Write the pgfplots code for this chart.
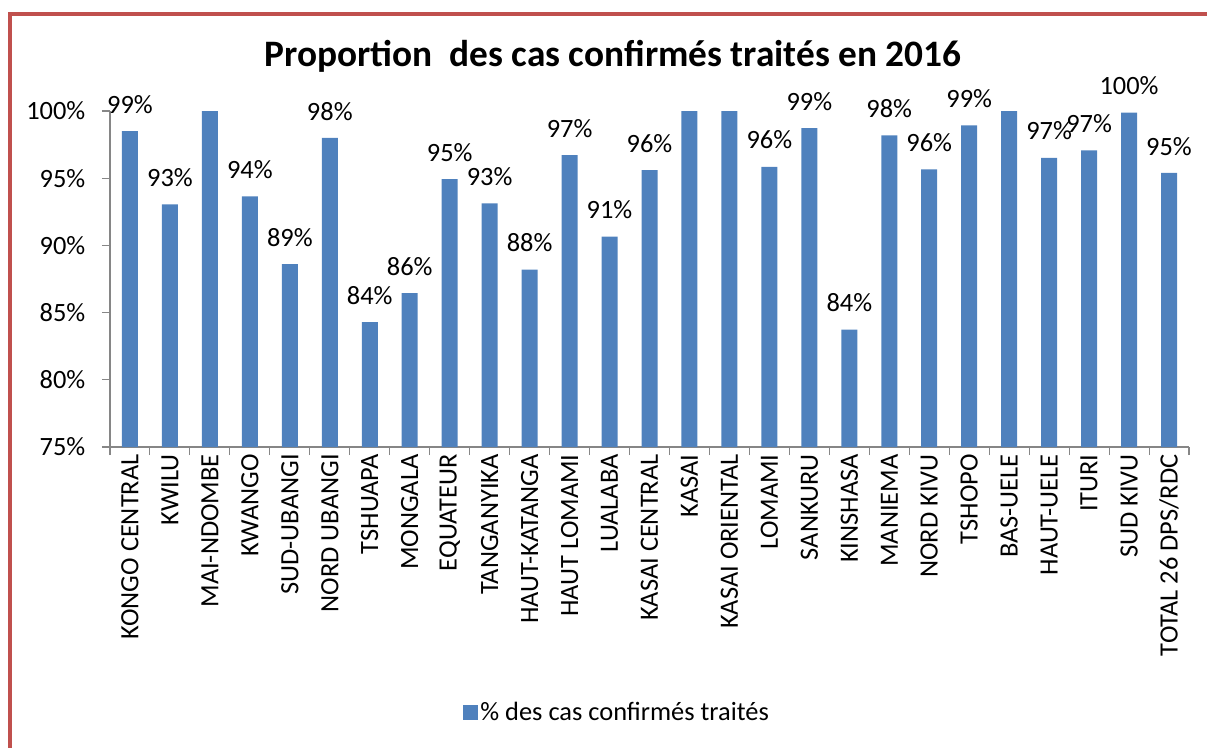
\documentclass[border=0pt]{standalone}
\usepackage{pgfplots}
\pgfplotsset{compat=1.18}
\usepackage{fontspec}
\setmainfont{Carlito}
\definecolor{barblue}{HTML}{4F81BD}
\definecolor{framered}{HTML}{C0504D}
\definecolor{axisgray}{HTML}{868686}
\newcommand{\lblfont}{\fontsize{19.8}{22}\selectfont}
\newcommand{\yl}[1]{#1\%\kern9pt}
\begin{document}
\begin{tikzpicture}
\begin{axis}[
  at={(82.5pt,225pt)}, anchor=south west,
  scale only axis, width=809.25pt, height=252pt,
  xmin=-0.5, xmax=26.5, ymin=75, ymax=100,
  axis x line*=bottom, axis y line*=left,
  axis line style={draw=axisgray, line width=0.8pt, -},
  tick style={draw=axisgray, line width=0.8pt},
  tick align=outside, major tick length=6pt,
  xtick={-0.5,0.5,...,26.5}, x tick label as interval,
  xticklabels={KONGO CENTRAL, KWILU, MAI-NDOMBE, KWANGO, SUD-UBANGI, NORD UBANGI, TSHUAPA, MONGALA, EQUATEUR, TANGANYIKA, HAUT-KATANGA, HAUT LOMAMI, LUALABA, KASAI CENTRAL, KASAI, KASAI ORIENTAL, LOMAMI, SANKURU, KINSHASA, MANIEMA, NORD KIVU, TSHOPO, BAS-UELE, HAUT-UELE, ITURI, SUD KIVU, TOTAL 26 DPS/RDC},
  x tick label style={rotate=90, anchor=east, font=\lblfont},
  xticklabel shift=-4pt,
  ytick={75,80,85,90,95,100},
  yticklabels={\yl{75},\yl{80},\yl{85},\yl{90},\yl{95},\yl{100}},
  y tick label style={font=\lblfont, anchor=east},
  /pgf/number format/assume math mode=true,
  clip mode=individual,
  ybar, bar width=12pt,
  legend style={at={(0.47,-0.79)}, anchor=center, draw=none, fill=none, font=\lblfont},
  legend image code/.code={\fill[barblue] (0pt,-5.6pt) rectangle (11.25pt,5.6pt);},
]
\addplot[fill=barblue, draw=none, bar shift=0pt,
  nodes near coords={\pgfmathprintnumber[fixed,precision=0]{\pgfplotspointmeta}\%},
  nodes near coords style={anchor=south, inner sep=0pt, yshift=13pt, text=black, font=\lblfont}]
coordinates {
(0,98.51) (1,93.05) (3,93.64) (4,88.6) (5,98.0) (6,84.3) (7,86.44) (8,94.93)
(9,93.12) (10,88.2) (11,96.72) (12,90.66) (13,95.6) (16,95.85) (17,98.73)
(18,83.73) (19,98.19) (20,95.65) (21,98.93) (23,96.52) (24,97.07) (25,99.87) (26,95.4)
};
\addlegendentry{\% des cas confirmés traités}
\addplot[fill=barblue, draw=none, bar shift=0pt, forget plot]
coordinates {(2,100) (14,100) (15,100) (22,100)};
\end{axis}
\node[font=\bfseries\fontsize{28}{32}\selectfont] at (459.75pt,518pt) {Proportion\ \ des cas confirmés traités en 2016};
\draw[framered, line width=3pt] (7.5pt,-5pt) -- (7.5pt,550pt) -- (910pt,550pt);
\pgfresetboundingbox
\path[use as bounding box] (0pt,0pt) rectangle (905.25pt,560.25pt);
\end{tikzpicture}
\end{document}
